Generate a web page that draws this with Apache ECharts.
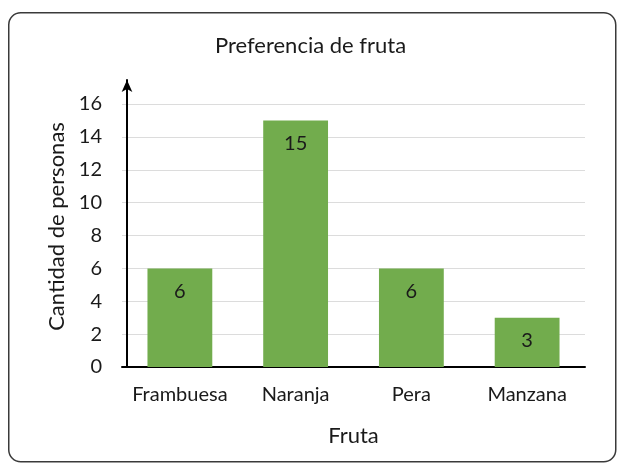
<!DOCTYPE html>
<html>
<head>
<meta charset="utf-8">
<script src="https://cdn.jsdelivr.net/npm/echarts@6/dist/echarts.min.js"></script>
<style>html,body{margin:0;padding:0;background:#fff}#c{width:621px;height:464px}</style>
</head>
<body>
<div id="c"></div>
<script>
var categories = ['Frambuesa', 'Naranja', 'Pera', 'Manzana'];
var values = [6, 15, 6, 3];
var chartTitle = 'Preferencia de fruta';
var xName = 'Fruta';
var yName = 'Cantidad de personas';

var FONT = 'Lato, "Open Sans", sans-serif';
var chart = echarts.init(document.getElementById('c'));
chart.setOption({
  backgroundColor: '#fff',
  animation: false,
  graphic: [{
    type: 'rect', left: 8, top: 12, z: -10,
    shape: { width: 607, height: 449, r: 12 },
    style: { fill: '#fff', stroke: '#3a3a3a', lineWidth: 1.5 }
  }],
  title: {
    text: chartTitle, left: 'center', top: 30,
    textStyle: { fontFamily: FONT, fontSize: 22, fontWeight: 'normal', color: '#1a1a1a' }
  },
  grid: [
    { left: 122, right: 36, top: 104, bottom: 97 },
    { left: 127, right: 36, top: 80, bottom: 97 }
  ],
  xAxis: [{
    type: 'category', data: categories, gridIndex: 0,
    name: xName, nameLocation: 'middle', nameGap: 58,
    nameTextStyle: { fontFamily: FONT, fontSize: 22, color: '#1a1a1a' },
    axisLine: { lineStyle: { color: '#000', width: 2 } },
    axisTick: { show: false },
    axisLabel: { interval: 0, margin: 18, fontFamily: FONT, fontSize: 20, color: '#1a1a1a' }
  }, {
    type: 'value', gridIndex: 1, show: false
  }],
  yAxis: [{
    type: 'value', min: 0, max: 16, interval: 2, gridIndex: 0,
    name: yName, nameLocation: 'middle', nameGap: 52,
    nameTextStyle: { fontFamily: FONT, fontSize: 22, color: '#1a1a1a', padding: [0, 0, 0, 18] },
    axisLine: { show: false },
    axisTick: { show: false },
    axisLabel: { margin: 20, fontFamily: FONT, fontSize: 20, color: '#1a1a1a' },
    splitLine: { lineStyle: { color: '#dcdcdc', width: 1 } }
  }, {
    type: 'value', min: 0, max: 1, gridIndex: 1,
    axisLine: { show: true, onZero: false, lineStyle: { color: '#000', width: 2 }, symbol: ['none', 'arrow'], symbolSize: [8, 12] },
    axisTick: { show: false }, axisLabel: { show: false }, splitLine: { show: false }
  }],
  series: [{
    type: 'bar', data: values, barWidth: '56%', xAxisIndex: 0, yAxisIndex: 0,
    itemStyle: { color: '#72AC4D' },
    label: { show: true, position: 'insideTop', distance: 13, fontFamily: FONT, fontSize: 20, color: '#1a1a1a' }
  }]
});
</script>
</body>
</html>
